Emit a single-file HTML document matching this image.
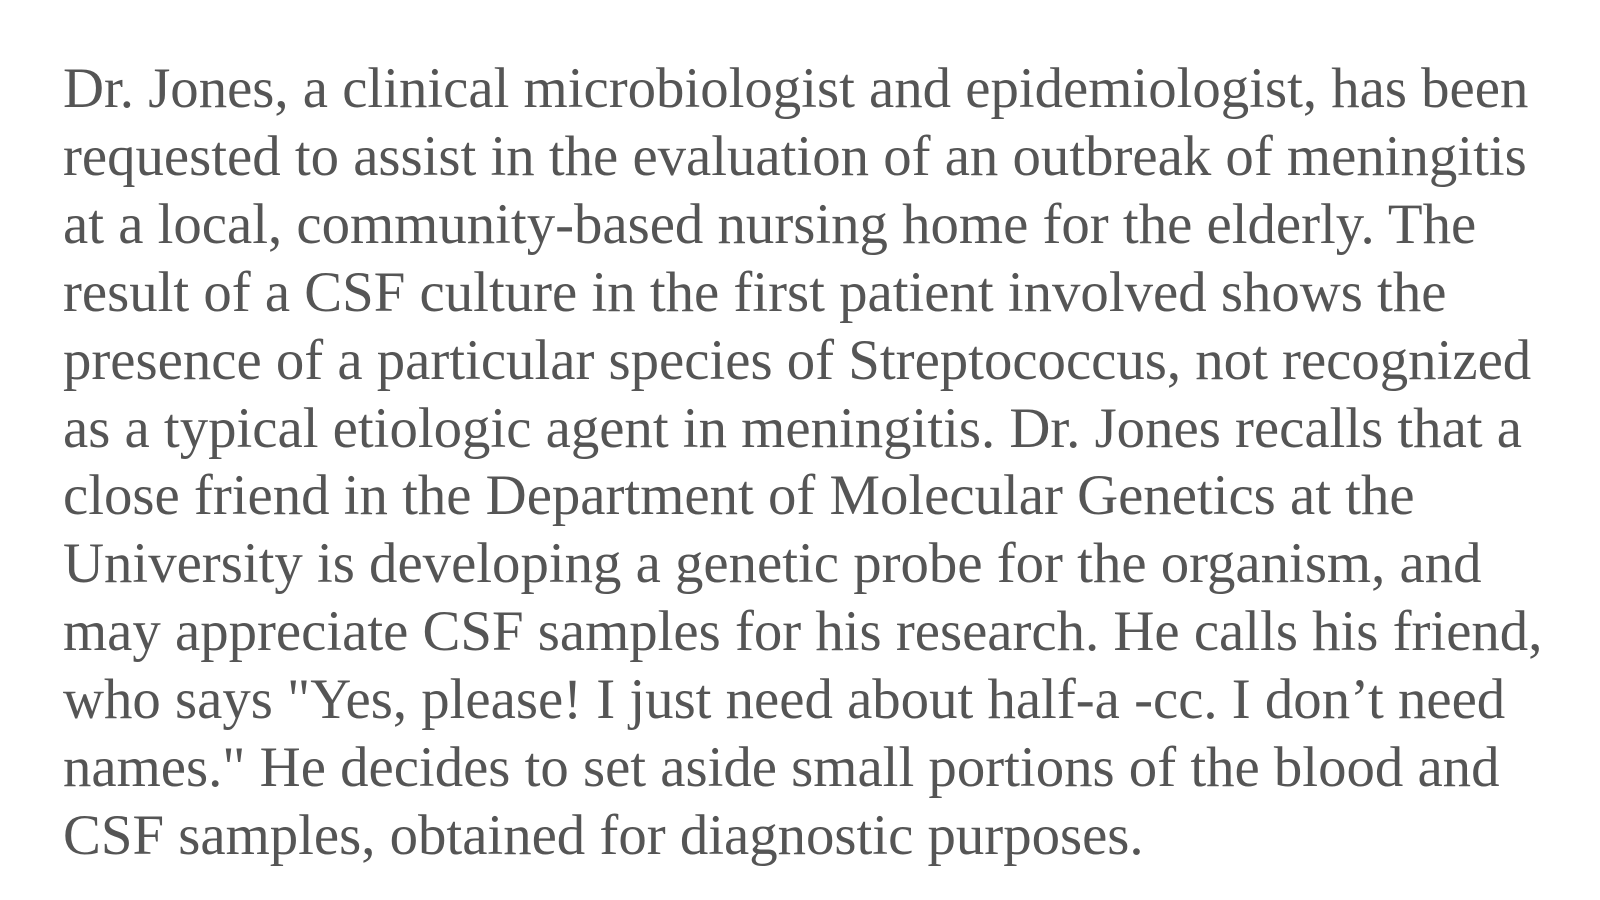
<!DOCTYPE html>
<html>
<head>
<meta charset="utf-8">
<style>
  html, body { margin: 0; padding: 0; background: #ffffff; }
  body { width: 1600px; height: 900px; overflow: hidden; position: relative; }
  .passage {
    position: absolute; left: 63px; top: 55px;
    font-family: "Liberation Serif", "Times New Roman", serif;
    font-size: 56.8px; line-height: 67.9px; color: #555555;
    white-space: nowrap;
  }
  .line { display: block; }
</style>
</head>
<body>
<div class="passage">
  <span class="line">Dr. Jones, a clinical microbiologist and epidemiologist, has been</span>
  <span class="line">requested to assist in the evaluation of an outbreak of meningitis</span>
  <span class="line">at a local, community-based nursing home for the elderly. The</span>
  <span class="line">result of a CSF culture in the first patient involved shows the</span>
  <span class="line">presence of a particular species of Streptococcus, not recognized</span>
  <span class="line">as a typical etiologic agent in meningitis. Dr. Jones recalls that a</span>
  <span class="line">close friend in the Department of Molecular Genetics at the</span>
  <span class="line">University is developing a genetic probe for the organism, and</span>
  <span class="line">may appreciate CSF samples for his research. He calls his friend,</span>
  <span class="line">who says "Yes, please! I just need about half-a -cc. I don’t need</span>
  <span class="line">names." He decides to set aside small portions of the blood and</span>
  <span class="line">CSF samples, obtained for diagnostic purposes.</span>
</div>
</body>
</html>
